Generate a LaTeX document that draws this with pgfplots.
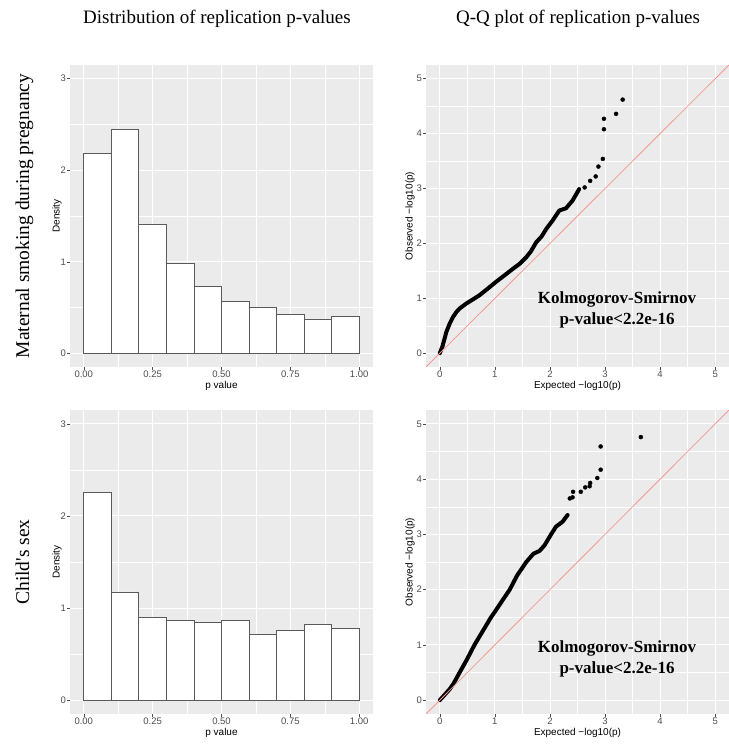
\documentclass[border=0pt]{standalone}
\usepackage{fontspec}
\setmainfont{Liberation Sans}
\newfontfamily\timesf{Liberation Serif}
\usepackage{pgfplots}
\pgfplotsset{compat=1.18}

\definecolor{ggbg}{HTML}{EBEBEB}
\definecolor{ggtick}{HTML}{4D4D4D}
\definecolor{ggred}{HTML}{F29A92}
\definecolor{barline}{HTML}{5A5A5A}

\pgfplotsset{
  gg/.style={
    scale only axis,
    axis background/.style={fill=ggbg},
    axis line style={draw=none},
    grid=both,
    major grid style={white, line width=0.9pt},
    minor grid style={white, line width=0.4pt},
    tick align=outside,
    xtick pos=bottom, ytick pos=left,
    major tick length=2.7pt, minor tick length=0pt,
    tick style={ggtick, line width=0.5pt},
    ticklabel style={font=\fontsize{9.5}{10}\selectfont, text=ggtick, inner sep=1.2pt},
    /pgf/number format/assume math mode=true,
    label style={font=\fontsize{10}{11}\selectfont},
    xlabel style={at={(axis description cs:0.5,0)}, anchor=north, yshift=-14pt, inner sep=0pt},
    ylabel style={at={(axis description cs:0,0.5)}, anchor=center, inner sep=0pt},
  },
  hist/.style={gg, width=303pt, xmin=-0.05, xmax=1.05, ymin=-0.15, ymax=3.15,
    xtick={0,0.25,0.5,0.75,1}, xticklabels={0.00,0.25,0.50,0.75,1.00},
    ytick={0,1,2,3}, minor x tick num=1, minor y tick num=1,
    xlabel={p value}, ylabel={Density},
    ylabel style={yshift=13pt}},
  qq/.style={gg, width=303pt, xmin=-0.25, xmax=5.25, ymin=-0.25, ymax=5.25,
    xtick={0,1,2,3,4,5}, ytick={0,1,2,3,4,5}, minor x tick num=1, minor y tick num=1,
    xlabel={Expected −log10(p)}, ylabel={Observed −log10(p)},
    ylabel style={yshift=16pt}},
  bars/.style={ybar interval, fill=white, draw=barline, line width=0.8pt},
  curve/.style={black, line width=4pt, line cap=round, line join=round},
  pts/.style={only marks, mark=*, mark size=2pt, black},
  diag/.style={ggred, line width=0.8pt},
}

\begin{document}
\begin{tikzpicture}

% top left: histogram, maternal smoking
\begin{axis}[hist, at={(70pt,377pt)}, anchor=south west, height=302pt]
\addplot[bars] coordinates {
  (0.0,2.18) (0.1,2.45) (0.2,1.41) (0.3,0.985) (0.4,0.73)
  (0.5,0.57) (0.6,0.50) (0.7,0.42) (0.8,0.375) (0.9,0.40) (1.0,0.40)};
\end{axis}

% bottom left: histogram, child's sex
\begin{axis}[hist, at={(70pt,30pt)}, anchor=south west, height=304pt]
\addplot[bars] coordinates {
  (0.0,2.255) (0.1,1.175) (0.2,0.90) (0.3,0.867) (0.4,0.84)
  (0.5,0.867) (0.6,0.718) (0.7,0.754) (0.8,0.823) (0.9,0.776) (1.0,0.776)};
\end{axis}

% top right: QQ, maternal smoking
\begin{axis}[qq, at={(426pt,377pt)}, anchor=south west, height=302pt]
\addplot[curve] coordinates {
  (0,0) (0.05,0.13) (0.12,0.39) (0.18,0.54) (0.24,0.66) (0.30,0.75)
  (0.36,0.815) (0.48,0.905) (0.60,0.98) (0.72,1.056) (0.85,1.16)
  (1.02,1.30) (1.15,1.40) (1.33,1.54) (1.45,1.63) (1.57,1.75)
  (1.65,1.85) (1.75,2.02) (1.85,2.13) (1.93,2.26) (2.05,2.42)
  (2.17,2.60) (2.29,2.64) (2.41,2.78) (2.53,2.99)};
\addplot[pts] coordinates {
  (2.63,3.02) (2.73,3.14) (2.83,3.22) (2.88,3.40) (2.96,3.54)
  (2.98,4.08) (2.98,4.27) (3.20,4.36) (3.32,4.62)};
\addplot[diag] coordinates {(-0.25,-0.25) (5.25,5.25)};
\end{axis}

% bottom right: QQ, child's sex
\begin{axis}[qq, at={(426pt,30pt)}, anchor=south west, height=304pt]
\addplot[curve] coordinates {
  (0,0) (0.10,0.11) (0.18,0.20) (0.25,0.30) (0.36,0.50) (0.50,0.75)
  (0.63,1.00) (0.75,1.20) (0.93,1.50) (1.00,1.60) (1.10,1.75)
  (1.27,2.00) (1.40,2.25) (1.57,2.50) (1.70,2.65) (1.81,2.70)
  (1.90,2.80) (2.02,3.00) (2.11,3.14) (2.23,3.23) (2.32,3.35)};
\addplot[pts] coordinates {
  (2.36,3.65) (2.41,3.67) (2.42,3.77) (2.56,3.77) (2.64,3.85)
  (2.72,3.87) (2.73,3.93) (2.86,4.02) (2.92,4.17) (2.92,4.59) (3.65,4.76)};
\addplot[diag] coordinates {(-0.25,-0.25) (5.25,5.25)};
\end{axis}

% column titles
\node[anchor=base, font=\timesf\fontsize{19}{22}\selectfont] at (217pt,720pt)
  {Distribution of replication p-values};
\node[anchor=base, font=\timesf\fontsize{19}{22}\selectfont] at (578pt,720pt)
  {Q-Q plot of replication p-values};

% row labels
\node[anchor=base, rotate=90, font=\timesf\fontsize{19.5}{22}\selectfont] at (29pt,528pt)
  {Maternal smoking during pregnancy};
\node[anchor=base, rotate=90, font=\timesf\fontsize{19.5}{22}\selectfont] at (29pt,182pt)
  {Child's sex};

% test annotations
\node[anchor=base, font=\timesf\bfseries\fontsize{17}{20}\selectfont] at (617pt,440pt)
  {Kolmogorov-Smirnov};
\node[anchor=base, font=\timesf\bfseries\fontsize{17}{20}\selectfont] at (617pt,419pt)
  {p-value<2.2e-16};
\node[anchor=base, font=\timesf\bfseries\fontsize{17}{20}\selectfont] at (617pt,91pt)
  {Kolmogorov-Smirnov};
\node[anchor=base, font=\timesf\bfseries\fontsize{17}{20}\selectfont] at (617pt,70pt)
  {p-value<2.2e-16};

\pgfresetboundingbox
\path[use as bounding box] (0pt,0pt) rectangle (728pt,744pt);
\end{tikzpicture}
\end{document}
